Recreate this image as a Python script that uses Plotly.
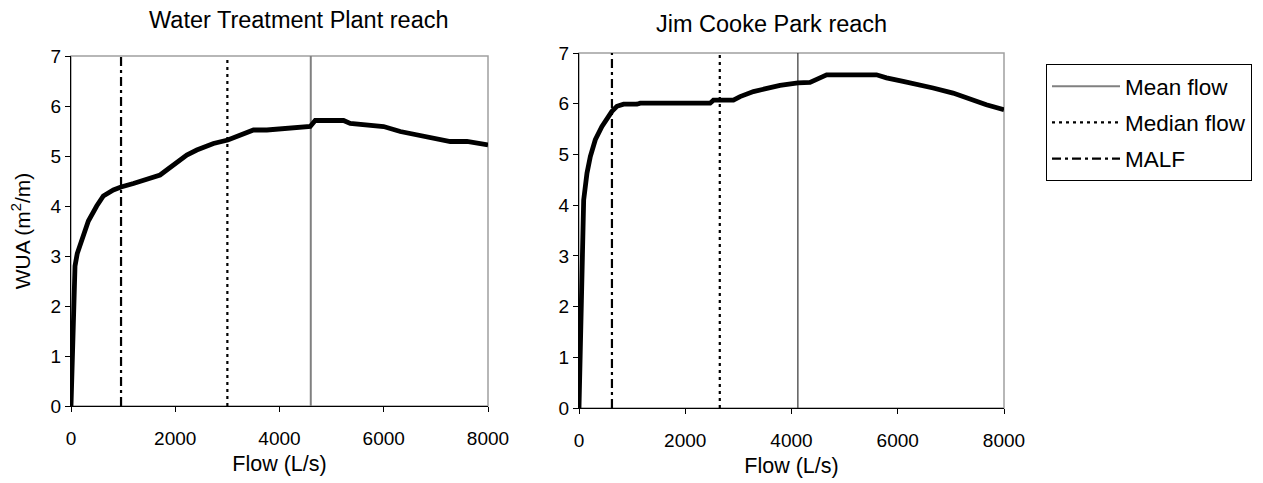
import plotly.graph_objects as go

# ---- data ----
wtp_flow = [0, 45, 77, 120, 205, 333, 493, 620, 813, 960, 1197, 1517, 1709, 1837, 1997,
            2221, 2413, 2733, 3008, 3245, 3501, 3757, 4077, 4397, 4589, 4685, 5229, 5357,
            5677, 5997, 6317, 6637, 6957, 7277, 7597, 8000]
wtp_wua = [0, 1.45, 2.8, 3.05, 3.3, 3.7, 4.0, 4.2, 4.32, 4.38, 4.45, 4.55, 4.62, 4.72, 4.85,
           5.02, 5.12, 5.25, 5.32, 5.42, 5.52, 5.52, 5.55, 5.57, 5.59, 5.71, 5.71, 5.65,
           5.62, 5.59, 5.49, 5.42, 5.35, 5.29, 5.29, 5.22]

jcp_flow = [0, 25, 56, 88, 150, 213, 307, 432, 558, 620, 714, 840, 1090, 1153, 2468, 2531,
            2907, 3032, 3283, 3533, 3784, 4122, 4348, 4536, 4661, 5600, 5788, 6101, 6414,
            6665, 7041, 7354, 7668, 8000]
jcp_wua = [0, 1.14, 2.79, 4.1, 4.63, 4.96, 5.29, 5.55, 5.75, 5.85, 5.95, 5.99, 5.99, 6.01,
           6.01, 6.07, 6.07, 6.14, 6.24, 6.31, 6.36, 6.41, 6.42, 6.51, 6.57, 6.57, 6.51,
           6.44, 6.38, 6.31, 6.21, 6.09, 5.98, 5.88]

wtp_mean, wtp_median, wtp_malf = 4600, 3000, 960
jcp_mean, jcp_median, jcp_malf = 4120, 2650, 620

titles = ["Water Treatment Plant reach", "Jim Cooke Park reach"]
x_ticks = [0, 2000, 4000, 6000, 8000]
y_ticks = [0, 1, 2, 3, 4, 5, 6, 7]
y_range = [0, 7]

FONT = "Liberation Sans, Arial, sans-serif"

fig = go.Figure()

def vline(x, xa, ya, name, dash, color, width, show):
    fig.add_trace(go.Scatter(
        x=[x, x], y=y_range, mode="lines", xaxis=xa, yaxis=ya, name=name,
        line=dict(color=color, width=width, dash=dash), showlegend=show,
        legendgroup=name, hoverinfo="skip"))

MALF_DASH = "9px,4px,3px,4px"
MED_DASH = "3px,4px"

# left panel
vline(wtp_mean, "x", "y", "Mean flow", "solid", "#808080", 2, True)
vline(wtp_median, "x", "y", "Median flow", MED_DASH, "#000000", 2.2, True)
vline(wtp_malf, "x", "y", "MALF", MALF_DASH, "#000000", 2.2, True)
fig.add_trace(go.Scatter(x=wtp_flow, y=wtp_wua, mode="lines", xaxis="x", yaxis="y",
                         line=dict(color="black", width=4.8), showlegend=False))
# right panel
vline(jcp_mean, "x2", "y2", "Mean flow", "solid", "#333333", 1.2, False)
vline(jcp_median, "x2", "y2", "Median flow", MED_DASH, "#000000", 2.2, False)
vline(jcp_malf, "x2", "y2", "MALF", MALF_DASH, "#000000", 2.2, False)
fig.add_trace(go.Scatter(x=jcp_flow, y=jcp_wua, mode="lines", xaxis="x2", yaxis="y2",
                         line=dict(color="black", width=4.8), showlegend=False))

# page body adds an 8px offset; size the figure to fit the window
OFF = 8
W, H = 1263 - OFF, 483 - OFF
def px_x(p):
    return (p - OFF) / W
def px_y(p):
    return 1 - (p - OFF) / H

axis_common = dict(showgrid=False, zeroline=False, showline=True, linecolor="black",
                   linewidth=1, ticks="outside", ticklen=5, tickcolor="black",
                   automargin=False,
                   tickfont=dict(family=FONT, size=19, color="black"))

xt = dict(text="Flow (L/s)", font=dict(size=21.5), standoff=8)

fig.update_layout(
    width=W, height=H,
    margin=dict(l=0, r=0, t=0, b=0),
    paper_bgcolor="white", plot_bgcolor="white",
    font=dict(family=FONT, color="black"),
    xaxis=dict(domain=[px_x(71), px_x(488)], range=[0, 8000], tickvals=x_ticks,
               anchor="y", title=xt, ticklabelstandoff=10, **axis_common),
    yaxis=dict(domain=[px_y(406), px_y(56)], range=y_range, tickvals=y_ticks,
               anchor="x", title=dict(text="WUA (m<sup>2</sup>/m)", font=dict(size=21), standoff=16),
               **axis_common),
    xaxis2=dict(domain=[px_x(579), px_x(1004)], range=[0, 8000], tickvals=x_ticks,
                anchor="y2", title=xt, ticklabelstandoff=10, **axis_common),
    yaxis2=dict(domain=[px_y(408), px_y(53)], range=y_range, tickvals=y_ticks,
                anchor="x2", **axis_common),
    legend=dict(x=px_x(1046), y=px_y(64), xanchor="left", yanchor="top",
                bordercolor="black", borderwidth=1, bgcolor="white",
                font=dict(family=FONT, size=22.5, color="black"),
                itemwidth=68, tracegroupgap=4, traceorder="grouped"),
    showlegend=True,
)

# gray frame on top/right of each plot area
for xr, yr in [("x domain", "y domain"), ("x2 domain", "y2 domain")]:
    fig.add_shape(type="rect", xref=xr, yref=yr, x0=0, x1=1, y0=0, y1=1,
                  line=dict(color="#a0a0a0", width=1.5), layer="below")

# panel titles
fig.add_annotation(text=titles[0], x=px_x(299), y=px_y(20), xref="paper", yref="paper",
                   xanchor="center", yanchor="middle",
                   showarrow=False, font=dict(family=FONT, size=23.5, color="black"))
fig.add_annotation(text=titles[1], x=px_x(771), y=px_y(24), xref="paper", yref="paper",
                   xanchor="center", yanchor="middle",
                   showarrow=False, font=dict(family=FONT, size=23.5, color="black"))

fig.write_html("out.html")
